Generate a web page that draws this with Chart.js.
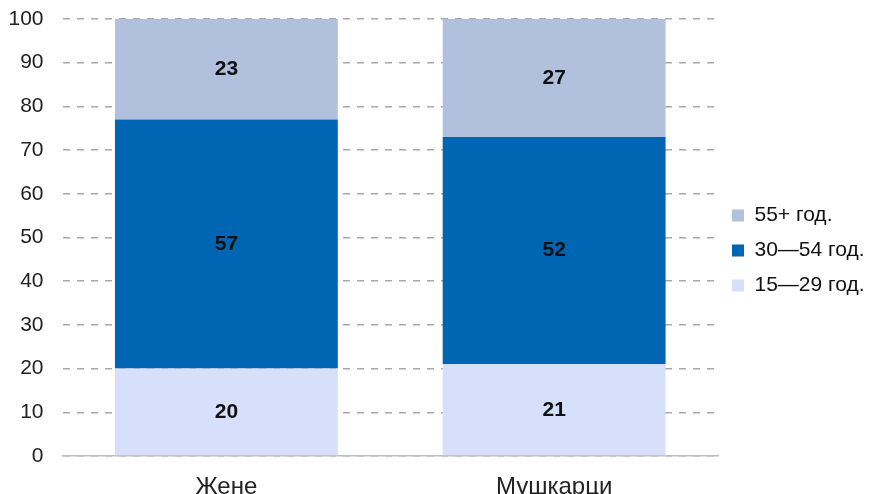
<!DOCTYPE html>
<html>
<head>
<meta charset="utf-8">
<script src="https://cdn.jsdelivr.net/npm/chart.js@4.4.1/dist/chart.umd.min.js"></script>
<style>
  html, body { margin: 0; padding: 0; background: #ffffff; }
  canvas { display: block; }
</style>
</head>
<body>
<canvas id="chart" width="870" height="494"></canvas>
<script>
// Chart data
const categories = ['Жене', 'Мушкарци'];
const seriesNames = ['15—29 год.', '30—54 год.', '55+ год.'];
const young = [20, 21];
const middle = [57, 52];
const older = [23, 27];
const seriesColors = ['#D7E0FA', '#0066B3', '#B0C0DD'];

const fontFamily = '"Liberation Sans", Arial, sans-serif';

// Draws the value in the middle of each stacked segment
const segmentLabels = {
    id: 'segmentLabels',
    afterDatasetsDraw(chart) {
        const ctx = chart.ctx;
        ctx.save();
        ctx.font = 'bold 21px ' + fontFamily;
        ctx.fillStyle = '#111111';
        ctx.textAlign = 'center';
        ctx.textBaseline = 'middle';
        chart.data.datasets.forEach((ds, i) => {
            const meta = chart.getDatasetMeta(i);
            meta.data.forEach((bar, j) => {
                const p = bar.getProps(['x', 'y', 'base'], true);
                ctx.fillText(ds.data[j], p.x, (p.y + p.base) / 2);
            });
        });
        ctx.restore();
    }
};

// Keep the legend column at a fixed width and centred on the canvas
const legendPlace = {
    id: 'legendPlace',
    beforeLayout(chart) {
        const lg = chart.legend;
        if (lg && !lg._fixed) {
            const fit = lg.fit.bind(lg);
            lg.fit = function () {
                fit();
                this.width = 152;
            };
            lg._fixed = true;
        }
    },
    afterLayout(chart) {
        const lg = chart.legend;
        if (lg) {
            lg.top -= 6;
            lg.bottom -= 6;
        }
    }
};

new Chart(document.getElementById('chart'), {
    type: 'bar',
    data: {
        labels: categories,
        datasets: [
            { label: seriesNames[0], data: young, backgroundColor: seriesColors[0] },
            { label: seriesNames[1], data: middle, backgroundColor: seriesColors[1] },
            { label: seriesNames[2], data: older, backgroundColor: seriesColors[2] }
        ]
    },
    options: {
        responsive: false,
        animation: false,
        layout: { padding: { top: 19, right: 0, bottom: 0, left: 0 } },
        datasets: {
            bar: { categoryPercentage: 1, barPercentage: 0.68 }
        },
        plugins: {
            legend: {
                position: 'right',
                reverse: true,
                labels: {
                    boxWidth: 12,
                    boxHeight: 12,
                    padding: 14,
                    color: '#111111',
                    font: { family: fontFamily, size: 21 }
                }
            },
            tooltip: { enabled: false }
        },
        scales: {
            x: {
                stacked: true,
                grid: { display: false },
                border: { display: true, color: '#BDBDBD', width: 1.5 },
                ticks: {
                    color: '#222222',
                    padding: 9,
                    font: { family: fontFamily, size: 24 }
                },
                afterFit(scale) {
                    scale.height = 38;
                    scale.paddingLeft = 0;
                    scale.paddingRight = 0;
                }
            },
            y: {
                stacked: true,
                min: 0,
                max: 100,
                grid: { color: '#A8A8A8', lineWidth: 1.5, drawTicks: false },
                border: { display: false, dash: [7, 7] },
                ticks: {
                    stepSize: 10,
                    color: '#222222',
                    padding: 19,
                    font: { family: fontFamily, size: 21 }
                },
                afterFit(scale) {
                    scale.width = 62.5;
                    scale.paddingTop = 0;
                    scale.paddingBottom = 0;
                }
            }
        }
    },
    plugins: [segmentLabels, legendPlace]
});
</script>
</body>
</html>
